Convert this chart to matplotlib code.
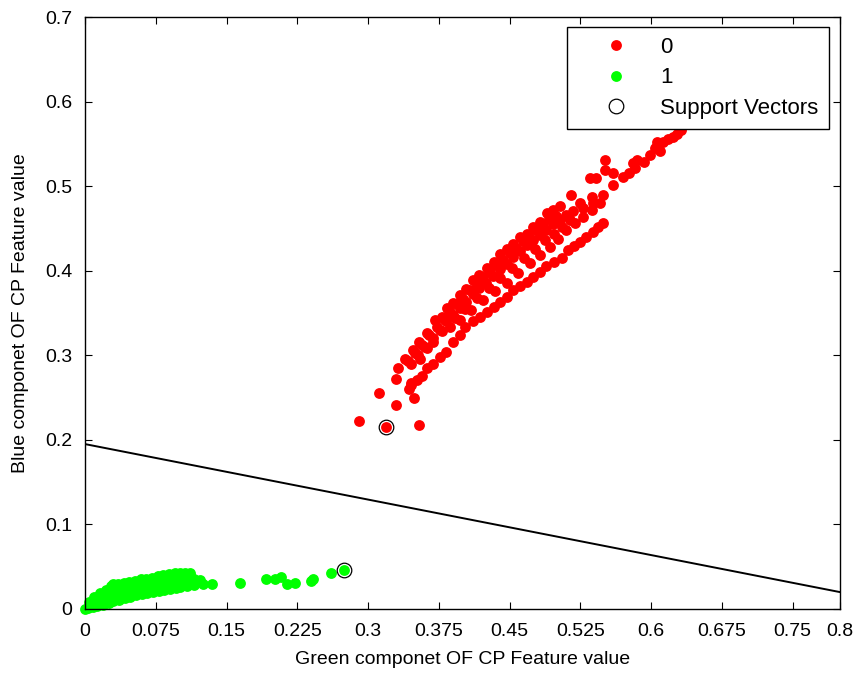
import matplotlib
matplotlib.use("Agg")
import matplotlib.pyplot as plt

plt.rcParams['font.family'] = ['Liberation Sans', 'DejaVu Sans']

# clase 0 (rojo): banda superior, banda inferior y puntos sueltos
red_x = [0.290, 0.319, 0.354, 0.312, 0.330, 0.349, 0.330, 0.346, 0.343,
         # borde superior de la banda principal
         0.332, 0.339, 0.348, 0.354, 0.362, 0.371, 0.378, 0.384, 0.390, 0.397,
         0.404, 0.411, 0.418, 0.426, 0.433, 0.440, 0.447, 0.454, 0.461, 0.468,
         0.475, 0.482, 0.490, 0.496, 0.503,
         # entre borde superior y centro
         0.342, 0.350, 0.357, 0.365, 0.373, 0.380, 0.387, 0.394, 0.401, 0.408,
         0.415, 0.422, 0.429, 0.436, 0.443, 0.450, 0.457, 0.464, 0.471, 0.478,
         0.485, 0.492, 0.499,
         # centro de la banda principal
         0.345, 0.353, 0.360, 0.369, 0.376, 0.383, 0.390, 0.397, 0.404, 0.411,
         0.418, 0.425, 0.432, 0.440, 0.447, 0.454, 0.461, 0.468, 0.475, 0.482,
         0.489, 0.496, 0.503, 0.510, 0.517,
         # entre centro y borde inferior
         0.362, 0.378, 0.392, 0.403, 0.415, 0.428, 0.440, 0.453, 0.465, 0.477,
         0.488, 0.497, 0.505, 0.514,
         # borde inferior de la banda principal
         0.355, 0.369, 0.387, 0.397, 0.409, 0.422, 0.434, 0.447, 0.459, 0.4715,
         0.482, 0.493, 0.501, 0.510, 0.519, 0.528, 0.537, 0.546, 0.549, 0.560,
         0.570, 0.577, 0.583, 0.592, 0.599, 0.604, 0.609, 0.606, 0.613, 0.618,
         0.623, 0.627, 0.632, 0.585, 0.581,
         # puntos sueltos arriba
         0.5146, 0.525, 0.537, 0.535, 0.5415, 0.551, 0.551, 0.560, 0.528, 0.5386,
         # rama inferior
         0.346, 0.352, 0.357, 0.362, 0.369, 0.376, 0.383, 0.390, 0.397, 0.403,
         0.411, 0.4185, 0.426, 0.433, 0.440, 0.447, 0.454, 0.461, 0.468, 0.475,
         0.482, 0.489, 0.497, 0.505, 0.512, 0.518, 0.5245, 0.531, 0.5386, 0.544,
         0.549]
red_y = [0.222, 0.215, 0.218, 0.255, 0.241, 0.249, 0.272, 0.265, 0.260,
         0.285, 0.296, 0.306, 0.316, 0.326, 0.342, 0.345, 0.356, 0.362, 0.371,
         0.378, 0.389, 0.395, 0.403, 0.410, 0.420, 0.426, 0.432, 0.440, 0.444,
         0.452, 0.458, 0.468, 0.472, 0.476,
         0.293, 0.303, 0.312, 0.324, 0.334, 0.343, 0.351, 0.361, 0.367, 0.377,
         0.384, 0.392, 0.398, 0.407, 0.413, 0.421, 0.427, 0.435, 0.440, 0.448,
         0.453, 0.461, 0.465,
         0.290, 0.300, 0.310, 0.320, 0.330, 0.340, 0.348, 0.356, 0.363, 0.372,
         0.380, 0.386, 0.394, 0.402, 0.408, 0.416, 0.423, 0.430, 0.436, 0.442,
         0.448, 0.455, 0.460, 0.466, 0.471,
         0.309, 0.329, 0.344, 0.355, 0.368, 0.379, 0.391, 0.403, 0.415, 0.426,
         0.436, 0.444, 0.452, 0.460,
         0.296, 0.316, 0.334, 0.342, 0.354, 0.365, 0.376, 0.385, 0.397, 0.409,
         0.419, 0.428, 0.438, 0.448, 0.456, 0.464, 0.472, 0.480, 0.489, 0.501,
         0.511, 0.516, 0.521, 0.529, 0.537, 0.545, 0.541, 0.552, 0.552, 0.556,
         0.558, 0.562, 0.566, 0.531, 0.527,
         0.489, 0.4795, 0.487, 0.510, 0.510, 0.519, 0.531, 0.516, 0.4736, 0.4795,
         0.267, 0.271, 0.275, 0.285, 0.290, 0.298, 0.304, 0.316, 0.324, 0.334,
         0.340, 0.345, 0.351, 0.357, 0.363, 0.369, 0.377, 0.382, 0.387, 0.393,
         0.399, 0.405, 0.410, 0.415, 0.424, 0.429, 0.434, 0.440, 0.446, 0.452,
         0.457]

# clase 1 (verde)
green_x = [0.004, 0.010, 0.016, 0.022, 0.028, 0.030, 0.035, 0.041, 0.047, 0.053,
           0.059, 0.065, 0.071, 0.077, 0.083, 0.089, 0.095, 0.101, 0.106, 0.111,
           0.007, 0.013, 0.019, 0.025, 0.033, 0.039, 0.045, 0.051, 0.057, 0.063,
           0.069, 0.075, 0.081, 0.087, 0.093, 0.099, 0.105, 0.111,
           0.006, 0.012, 0.018, 0.024, 0.030, 0.036, 0.042, 0.048, 0.054, 0.060,
           0.066, 0.072, 0.078, 0.084, 0.090, 0.096, 0.102, 0.108, 0.115,
           0.009, 0.015, 0.021, 0.027, 0.033, 0.039, 0.045, 0.051, 0.057, 0.063,
           0.069, 0.075, 0.081, 0.087, 0.093, 0.099, 0.105, 0.111,
           0.000, 0.003, 0.008, 0.013, 0.019, 0.025, 0.030, 0.036, 0.042, 0.048,
           0.054, 0.060, 0.066, 0.072, 0.078, 0.084, 0.090, 0.096, 0.101, 0.108,
           0.115,
           0.122, 0.125, 0.135, 0.164, 0.192, 0.201, 0.208, 0.214, 0.2225, 0.240,
           0.242, 0.261, 0.2745]
green_y = [0.008, 0.014, 0.019, 0.023, 0.027, 0.029, 0.029, 0.031, 0.032, 0.033,
           0.035, 0.036, 0.037, 0.039, 0.040, 0.041, 0.042, 0.043, 0.043, 0.043,
           0.0075, 0.012, 0.0155, 0.0195, 0.024, 0.026, 0.028, 0.029, 0.031, 0.032,
           0.034, 0.035, 0.036, 0.037, 0.038, 0.039, 0.040, 0.040,
           0.004, 0.009, 0.012, 0.016, 0.019, 0.021, 0.023, 0.025, 0.026, 0.028,
           0.029, 0.031, 0.032, 0.033, 0.034, 0.035, 0.036, 0.036, 0.036,
           0.003, 0.006, 0.008, 0.0115, 0.014, 0.016, 0.018, 0.020, 0.021, 0.0225,
           0.024, 0.026, 0.027, 0.028, 0.029, 0.030, 0.031, 0.032,
           0.000, 0.001, 0.002, 0.003, 0.005, 0.007, 0.009, 0.011, 0.013, 0.0145,
           0.016, 0.0175, 0.019, 0.020, 0.0215, 0.0225, 0.024, 0.025, 0.026, 0.027,
           0.028,
           0.034, 0.0295, 0.0295, 0.031, 0.035, 0.035, 0.0375, 0.0295, 0.031, 0.0335,
           0.035, 0.043, 0.0465]

# vectores de soporte
sv_x = [0.3186, 0.2745]
sv_y = [0.2148, 0.0465]

# frontera de decision
line_x = [0.0, 0.8]
line_y = [0.195, 0.020]

xticks = [0, 0.075, 0.15, 0.225, 0.3, 0.375, 0.45, 0.525, 0.6, 0.675, 0.75, 0.8]
xtick_labels = ['0', '0.075', '0.15', '0.225', '0.3', '0.375', '0.45', '0.525',
                '0.6', '0.675', '0.75', '0.8']
yticks = [0, 0.1, 0.2, 0.3, 0.4, 0.5, 0.6, 0.7]
ytick_labels = ['0', '0.1', '0.2', '0.3', '0.4', '0.5', '0.6', '0.7']

fig = plt.figure(figsize=(8.57, 6.75), dpi=100)
ax = fig.add_axes([0.0992, 0.0978, 0.8808, 0.877])

ax.plot(red_x, red_y, 'o', color='#ff0000', ms=7.8, mec='none', label='0')
ax.plot(green_x, green_y, 'o', color='#00ff00', ms=7.8, mec='none', label='1',
        clip_on=False)
ax.plot(line_x, line_y, '-', color='black', lw=1.4)
ax.plot(sv_x, sv_y, 'o', mfc='none', mec='black', ms=10.5, mew=0.9,
        label='Support Vectors')

ax.set_xlim(0, 0.8)
ax.set_ylim(0, 0.7)
ax.set_xticks(xticks)
ax.set_xticklabels(xtick_labels)
ax.set_yticks(yticks)
ax.set_yticklabels(ytick_labels)
ax.tick_params(direction='in', top=True, right=True, length=5, width=0.8,
               labelsize=14)
ax.tick_params(axis='x', pad=10)
ax.tick_params(axis='y', pad=9)
for s in ax.spines.values():
    s.set_linewidth(1.0)

ax.set_xlabel('Green componet OF CP Feature value', fontsize=14, labelpad=8)
ax.set_ylabel('Blue componet OF CP Feature value', fontsize=14, labelpad=12)

leg = ax.legend(loc='upper right', bbox_to_anchor=(0.985, 0.983),
                borderaxespad=0, fontsize=16, fancybox=False, framealpha=1,
                edgecolor='black', handlelength=3.5, handletextpad=0.25,
                labelspacing=0.42, borderpad=0.45)
leg.get_frame().set_linewidth(1.0)
leg.set_zorder(5)

fig.savefig('out.png', dpi=100)
